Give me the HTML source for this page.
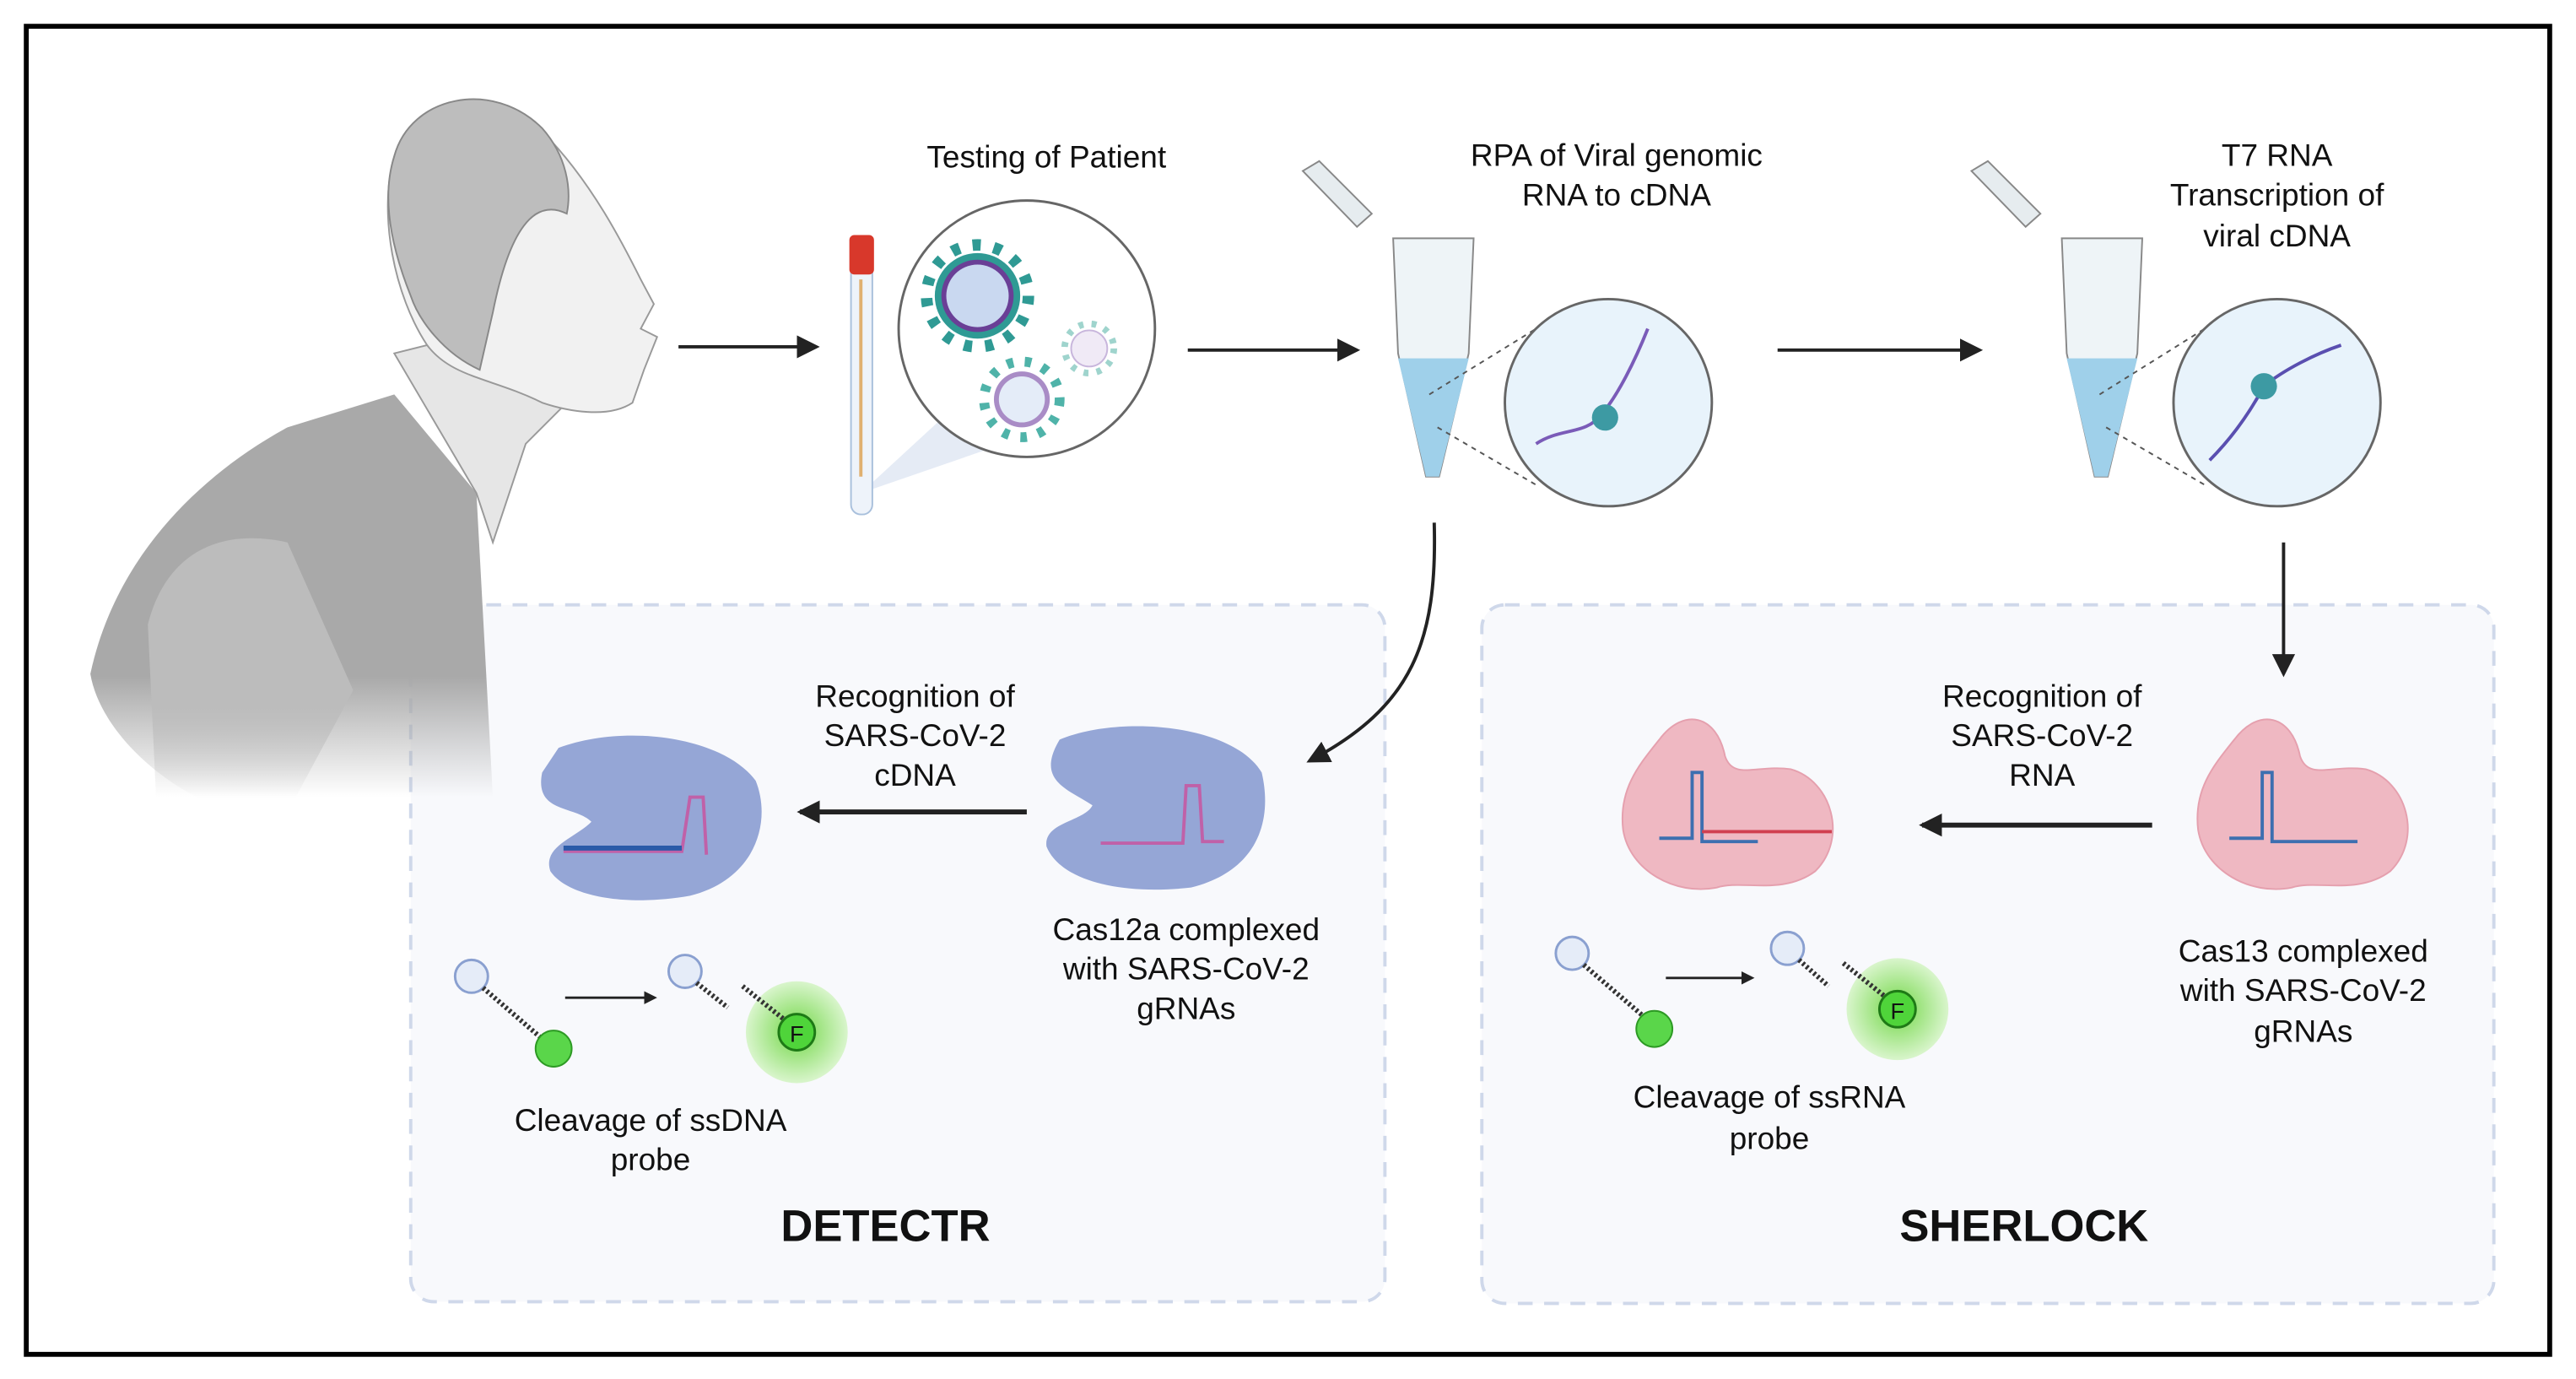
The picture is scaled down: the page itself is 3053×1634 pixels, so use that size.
<!DOCTYPE html>
<html><head><meta charset="utf-8"><style>
html,body{margin:0;padding:0;background:#fff;}
svg{display:block;}
text{font-family:"Liberation Sans",sans-serif;fill:#111;}
</style></head><body>
<svg width="3053" height="1634" viewBox="0 0 1568 839" preserveAspectRatio="none" xmlns="http://www.w3.org/2000/svg">
<defs>
<marker id="ah" markerWidth="8" markerHeight="8" refX="6" refY="4" orient="auto" markerUnits="userSpaceOnUse"><path d="M0,0 L8,4 L0,8 Z" fill="#222"/></marker>
<marker id="ahb" markerWidth="14" markerHeight="14" refX="12" refY="7" orient="auto" markerUnits="userSpaceOnUse"><path d="M0,0 L14,7 L0,14 Z" fill="#222"/></marker>
<linearGradient id="bodyg" gradientUnits="userSpaceOnUse" x1="0" y1="240" x2="0" y2="485"><stop offset="0" stop-color="#a9a9a9"/><stop offset="0.7" stop-color="#a9a9a9"/><stop offset="1" stop-color="#a9a9a9" stop-opacity="0"/></linearGradient>
<linearGradient id="sleeveg" gradientUnits="userSpaceOnUse" x1="0" y1="330" x2="0" y2="485"><stop offset="0" stop-color="#bcbcbc"/><stop offset="0.6" stop-color="#bcbcbc"/><stop offset="1" stop-color="#bcbcbc" stop-opacity="0"/></linearGradient>
<radialGradient id="glow"><stop offset="0.4" stop-color="#9be37c"/><stop offset="1" stop-color="#d9f5cc"/></radialGradient>
</defs>
<rect x="0" y="0" width="1568" height="839" fill="#fff"/>
<rect x="16" y="16" width="1536" height="808" fill="#fff" stroke="#000" stroke-width="3"/>

<!-- boxes -->
<rect x="250" y="368" width="593" height="424" rx="14" fill="#f8f9fc" stroke="#cfd8ea" stroke-width="2" stroke-dasharray="9,7"/>
<rect x="902" y="368" width="616" height="425" rx="14" fill="#f8f9fc" stroke="#cfd8ea" stroke-width="2" stroke-dasharray="9,7"/>

<!-- person -->
<g>
<path d="M55,410 C70,340 120,290 175,260 L240,240 L290,300 L300,485 L120,485 C90,470 60,440 55,410 Z" fill="url(#bodyg)"/>
<path d="M240,215 L300,200 L345,245 L320,270 L300,330 L290,300 Z" fill="#e6e6e6" stroke="#999" stroke-width="1"/>
<path d="M240,95 C250,60 300,50 330,80 C360,110 380,150 390,170 L398,185 L390,200 L400,205 L392,225 L385,245 C370,255 345,250 330,245 C300,230 275,230 260,210 C240,180 230,130 240,95 Z" fill="#f1f1f1" stroke="#999" stroke-width="1"/>
<path d="M240,95 C250,58 300,48 330,78 C345,95 348,115 345,130 C325,120 310,140 300,190 L292,225 C270,215 255,195 250,180 C238,150 232,120 240,95 Z" fill="#bdbdbd" stroke="#888" stroke-width="1"/>
<path d="M90,380 C100,340 130,320 175,330 L215,420 L180,485 L95,485 Z" fill="url(#sleeveg)"/>
</g>

<!-- top row -->
<line x1="413" y1="211" x2="497" y2="211" stroke="#222" stroke-width="2" marker-end="url(#ahb)"/>
<text x="637" y="102" font-size="19" text-anchor="middle">Testing of Patient</text>
<path d="M524,300 L600,230 L640,260 Z" fill="#dfe6f2" opacity="0.8"/>
<rect x="518" y="160" width="13" height="153" rx="6" fill="#eef3fa" stroke="#a9c0dc"/>
<line x1="524" y1="170" x2="524" y2="290" stroke="#e0b070" stroke-width="2"/>
<rect x="517" y="143" width="15" height="24" rx="3" fill="#d8382b"/>
<circle cx="625" cy="200" r="78" fill="#fff" stroke="#666" stroke-width="1.5"/>
<circle cx="595" cy="180" r="31" fill="none" stroke="#2f9a94" stroke-width="7" stroke-dasharray="5,8"/>
<circle cx="595" cy="180" r="26" fill="#2f9a94"/>
<circle cx="595" cy="180" r="22" fill="#6a3f96"/>
<circle cx="595" cy="180" r="19" fill="#c9d8f0"/>
<circle cx="622" cy="243" r="23" fill="none" stroke="#4fb3a9" stroke-width="6" stroke-dasharray="4,7"/>
<circle cx="622" cy="243" r="17" fill="#a98cc6"/><circle cx="622" cy="243" r="14" fill="#e4ecf8"/>
<circle cx="663" cy="212" r="15" fill="none" stroke="#9fd4cd" stroke-width="4" stroke-dasharray="3,5"/><circle cx="663" cy="212" r="11" fill="#f0eaf6" stroke="#c8b6dc"/>

<line x1="723" y1="213" x2="826" y2="213" stroke="#222" stroke-width="2" marker-end="url(#ahb)"/>
<text x="984" y="101" font-size="19" text-anchor="middle">RPA of Viral genomic</text>
<text x="984" y="125" font-size="19" text-anchor="middle">RNA to cDNA</text>
<path d="M793,104 L803,98 L835,130 L826,138 Z" fill="#e6ecef" stroke="#888"/>
<path d="M848,145 L897,145 L894,215 L876,290 L868,290 L851,215 Z" fill="#eef4f7" stroke="#888"/>
<path d="M851,218 L894,218 L876,290 L868,290 Z" fill="#9fd0ea"/>
<line x1="870" y1="240" x2="935" y2="200" stroke="#555" stroke-dasharray="3,3"/>
<line x1="875" y1="260" x2="935" y2="295" stroke="#555" stroke-dasharray="3,3"/>
<circle cx="979" cy="245" r="63" fill="#e8f3fb" stroke="#666" stroke-width="1.5"/>
<path d="M935,270 C950,260 965,265 975,252 C985,240 995,220 1003,200" stroke="#7a5bb8" stroke-width="2" fill="none"/>
<circle cx="977" cy="254" r="8" fill="#3d9aa3"/>

<line x1="1082" y1="213" x2="1205" y2="213" stroke="#222" stroke-width="2" marker-end="url(#ahb)"/>
<text x="1386" y="101" font-size="19" text-anchor="middle">T7 RNA</text>
<text x="1386" y="125" font-size="19" text-anchor="middle">Transcription of</text>
<text x="1386" y="150" font-size="19" text-anchor="middle">viral cDNA</text>
<path d="M1200,104 L1210,98 L1242,130 L1233,138 Z" fill="#e6ecef" stroke="#888"/>
<path d="M1255,145 L1304,145 L1301,215 L1283,290 L1275,290 L1258,215 Z" fill="#eef4f7" stroke="#888"/>
<path d="M1258,218 L1301,218 L1283,290 L1275,290 Z" fill="#9fd0ea"/>
<line x1="1278" y1="240" x2="1342" y2="200" stroke="#555" stroke-dasharray="3,3"/>
<line x1="1282" y1="260" x2="1342" y2="295" stroke="#555" stroke-dasharray="3,3"/>
<circle cx="1386" cy="245" r="63" fill="#e8f3fb" stroke="#666" stroke-width="1.5"/>
<path d="M1345,280 C1360,265 1370,250 1378,235 C1390,225 1410,215 1425,210" stroke="#5a4fb0" stroke-width="2" fill="none"/>
<circle cx="1378" cy="235" r="8" fill="#3d9aa3"/>

<!-- connectors -->
<path d="M873,318 C875,390 860,430 797,463" stroke="#222" stroke-width="2" fill="none" marker-end="url(#ahb)"/>
<line x1="1390" y1="330" x2="1390" y2="410" stroke="#222" stroke-width="2" marker-end="url(#ahb)"/>

<!-- DETECTR -->
<text x="557" y="430" font-size="19" text-anchor="middle">Recognition of</text>
<text x="557" y="454" font-size="19" text-anchor="middle">SARS-CoV-2</text>
<text x="557" y="478" font-size="19" text-anchor="middle">cDNA</text>
<path d="M340,455 C380,440 440,448 460,475 C470,500 460,535 420,545 C380,552 345,545 335,530 C330,515 350,510 360,500 C350,490 325,495 330,470 Z" fill="#95a6d6"/>
<path d="M645,450 C680,435 750,440 768,470 C775,500 765,530 725,540 C680,545 645,535 637,515 C635,500 660,500 665,490 C650,480 630,475 645,450 Z" fill="#95a6d6"/>
<path d="M343,518 L415,518 L420,485 L428,485 L430,520" stroke="#c061a8" stroke-width="2" fill="none"/>
<line x1="343" y1="516" x2="415" y2="516" stroke="#2a5aa8" stroke-width="3"/>
<path d="M670,513 L720,513 L722,478 L730,478 L732,512 L745,512" stroke="#c061a8" stroke-width="2" fill="none"/>
<line x1="625" y1="494" x2="487" y2="494" stroke="#222" stroke-width="3" marker-end="url(#ahb)"/>
<text x="722" y="572" font-size="19" text-anchor="middle">Cas12a complexed</text>
<text x="722" y="596" font-size="19" text-anchor="middle">with SARS-CoV-2</text>
<text x="722" y="620" font-size="19" text-anchor="middle">gRNAs</text>
<circle cx="287" cy="594" r="10" fill="#e5ecf8" stroke="#8aa0d0" stroke-width="1.5"/>
<line x1="294" y1="601" x2="330" y2="632" stroke="#333" stroke-width="3" stroke-dasharray="1.5,1.5"/>
<circle cx="337" cy="638" r="11" fill="#5ad64a" stroke="#2d9a24"/>
<line x1="344" y1="607" x2="398" y2="607" stroke="#222" stroke-width="1.5" marker-end="url(#ah)"/>
<circle cx="417" cy="591" r="10" fill="#e5ecf8" stroke="#8aa0d0" stroke-width="1.5"/>
<line x1="424" y1="598" x2="443" y2="613" stroke="#333" stroke-width="3" stroke-dasharray="1.5,1.5"/>
<circle cx="485" cy="628" r="31" fill="url(#glow)"/>
<line x1="452" y1="600" x2="477" y2="620" stroke="#333" stroke-width="3" stroke-dasharray="1.5,1.5"/>
<circle cx="485" cy="628" r="11" fill="#4fd43a" stroke="#1e7a16" stroke-width="1.5"/>
<text x="485" y="634" font-size="14" text-anchor="middle">F</text>
<text x="396" y="688" font-size="19" text-anchor="middle">Cleavage of ssDNA</text>
<text x="396" y="712" font-size="19" text-anchor="middle">probe</text>
<text x="539" y="755" font-size="27" font-weight="bold" text-anchor="middle">DETECTR</text>

<!-- SHERLOCK -->
<text x="1243" y="430" font-size="19" text-anchor="middle">Recognition of</text>
<text x="1243" y="454" font-size="19" text-anchor="middle">SARS-CoV-2</text>
<text x="1243" y="478" font-size="19" text-anchor="middle">RNA</text>
<path d="M1010,450 C1025,430 1045,435 1050,460 C1055,475 1070,465 1090,468 C1115,475 1125,510 1105,530 C1085,545 1060,535 1045,540 C1020,545 992,530 988,505 C985,480 998,465 1010,450 Z" fill="#efb8c2" stroke="#e5a0ae"/>
<path d="M1360,450 C1375,430 1395,435 1400,460 C1405,475 1420,465 1440,468 C1465,475 1475,510 1455,530 C1435,545 1410,535 1395,540 C1370,545 1342,530 1338,505 C1335,480 1348,465 1360,450 Z" fill="#efb8c2" stroke="#e5a0ae"/>
<path d="M1010,510 L1030,510 L1030,470 L1036,470 L1036,512 L1070,512" stroke="#3d6fb0" stroke-width="2" fill="none"/>
<line x1="1036" y1="506" x2="1115" y2="506" stroke="#d04050" stroke-width="2"/>
<path d="M1357,510 L1377,510 L1377,470 L1383,470 L1383,512 L1435,512" stroke="#3d6fb0" stroke-width="2" fill="none"/>
<line x1="1310" y1="502" x2="1170" y2="502" stroke="#222" stroke-width="3" marker-end="url(#ahb)"/>
<text x="1402" y="585" font-size="19" text-anchor="middle">Cas13 complexed</text>
<text x="1402" y="609" font-size="19" text-anchor="middle">with SARS-CoV-2</text>
<text x="1402" y="634" font-size="19" text-anchor="middle">gRNAs</text>
<circle cx="957" cy="580" r="10" fill="#e5ecf8" stroke="#8aa0d0" stroke-width="1.5"/>
<line x1="964" y1="587" x2="1000" y2="618" stroke="#333" stroke-width="3" stroke-dasharray="1.5,1.5"/>
<circle cx="1007" cy="626" r="11" fill="#5ad64a" stroke="#2d9a24"/>
<line x1="1014" y1="595" x2="1066" y2="595" stroke="#222" stroke-width="1.5" marker-end="url(#ah)"/>
<circle cx="1088" cy="577" r="10" fill="#e5ecf8" stroke="#8aa0d0" stroke-width="1.5"/>
<line x1="1095" y1="584" x2="1113" y2="600" stroke="#333" stroke-width="3" stroke-dasharray="1.5,1.5"/>
<circle cx="1155" cy="614" r="31" fill="url(#glow)"/>
<line x1="1122" y1="586" x2="1147" y2="606" stroke="#333" stroke-width="3" stroke-dasharray="1.5,1.5"/>
<circle cx="1155" cy="614" r="11" fill="#4fd43a" stroke="#1e7a16" stroke-width="1.5"/>
<text x="1155" y="620" font-size="14" text-anchor="middle">F</text>
<text x="1077" y="674" font-size="19" text-anchor="middle">Cleavage of ssRNA</text>
<text x="1077" y="699" font-size="19" text-anchor="middle">probe</text>
<text x="1232" y="755" font-size="27" font-weight="bold" text-anchor="middle">SHERLOCK</text>
</svg>
</body></html>
